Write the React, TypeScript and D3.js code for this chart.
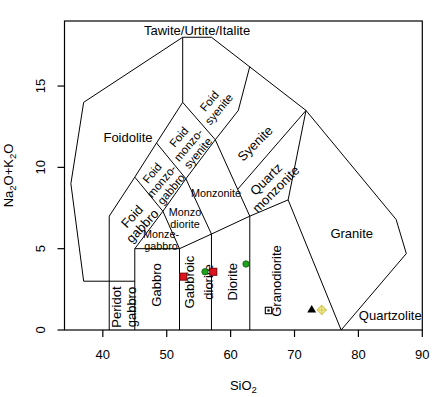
import React from "react";
import * as d3 from "d3";

const W = 443;
const H = 397;

const xTicks = [40, 50, 60, 70, 80, 90];
const yTicks = [0, 5, 10, 15];

// field boundaries (SiO2, Na2O+K2O)
const boundaries: [number, number][][] = [
  [[45, 3], [37, 3], [35, 9], [37, 14], [52.5, 18], [57, 18], [71.8, 13.5], [85.9, 6.8], [87.5, 4.7], [77.3, 0]],
  [[41, 0], [41, 7]],
  [[45, 0], [45, 5]],
  [[45, 5], [52, 5]],
  [[52, 0], [52, 5]],
  [[57, 0], [57, 5.9]],
  [[63, 0], [63, 7]],
  [[52, 5], [57, 5.9], [63, 7], [69, 8]],
  [[69, 8], [77.3, 0]],
  [[45, 5], [49.4, 7.3], [53, 9.3], [57.6, 11.7]],
  [[41, 7], [45, 9.4], [48.4, 11.5], [52.5, 14]],
  [[52.5, 14], [52.5, 18]],
  [[45, 9.4], [49.4, 7.3]],
  [[48.4, 11.5], [53, 9.3]],
  [[52.5, 14], [57.6, 11.7]],
  [[49.4, 7.3], [52, 5]],
  [[53, 9.3], [57, 5.9]],
  [[57.6, 11.7], [63, 7]],
  [[57.6, 11.7], [61.2, 13.5], [63, 16.2]],
  [[61.1, 8.65], [71.8, 13.5]],
  [[71.8, 13.5], [69, 8]],
];

type Lab = { lines: string[]; x: number; y: number; rot: number; size: number; gap: number };
const fieldLabels: Lab[] = [
  { lines: ["Tawite/Urtite/Italite"], x: 54.74, y: 18.45, rot: 0, size: 13, gap: 13 },
  { lines: ["Foidolite"], x: 43.94, y: 11.87, rot: 0, size: 13, gap: 13 },
  { lines: ["Foid", "syenite"], x: 57.4, y: 13.83, rot: -50, size: 11.5, gap: 12.5 },
  { lines: ["Foid", "monzo-", "syenite"], x: 53.38, y: 11.38, rot: -50, size: 11.5, gap: 12.5 },
  { lines: ["Foid", "monzo-", "gabbro"], x: 49.18, y: 9.16, rot: -50, size: 11.5, gap: 12.5 },
  { lines: ["Foid", "gabbro"], x: 45.35, y: 6.7, rot: -47, size: 13, gap: 14 },
  { lines: ["Monzonite"], x: 57.71, y: 8.41, rot: 0, size: 10.8, gap: 12 },
  { lines: ["Monzo", "diorite"], x: 52.86, y: 6.89, rot: 0, size: 10.8, gap: 12.3 },
  { lines: ["Monze-", "gabbro"], x: 49.1, y: 5.53, rot: 0, size: 10.8, gap: 12.3 },
  { lines: ["Gabbro"], x: 48.43, y: 2.77, rot: -90, size: 13, gap: 13 },
  { lines: ["Peridot", "gabbro"], x: 43.34, y: 1.41, rot: -90, size: 13, gap: 15 },
  { lines: ["Gabbroic", "diorite"], x: 55.0, y: 2.95, rot: -90, size: 13, gap: 19 },
  { lines: ["Diorite"], x: 60.29, y: 2.97, rot: -90, size: 13, gap: 13 },
  { lines: ["Granodiorite"], x: 67.21, y: 3.01, rot: -90, size: 13, gap: 13 },
  { lines: ["Granite"], x: 78.95, y: 5.95, rot: 0, size: 13, gap: 13 },
  { lines: ["Quartzolite"], x: 84.99, y: 0.92, rot: 0, size: 13, gap: 13 },
  { lines: ["Syenite"], x: 63.82, y: 11.48, rot: -45, size: 13, gap: 13 },
  { lines: ["Quartz", "monzonite"], x: 66.29, y: 8.97, rot: -45, size: 13, gap: 14 },
];

// samples
const redSquares: [number, number][] = [[52.59, 3.28], [57.29, 3.58]];
const greenCircles: [number, number][] = [[55.99, 3.58], [62.41, 4.06]];
const blackTriangles: [number, number][] = [[72.69, 1.23]];
const yellowDiamonds: [number, number][] = [[74.26, 1.23]];
const dotSquares: [number, number][] = [[65.93, 1.2]];

const FONT = "'Liberation Sans', Arial, Helvetica, sans-serif";

export default function App() {
  const x = d3.scaleLinear().domain([34, 90]).range([64.5, 422.3]);
  const y = d3.scaleLinear().domain([0, 19]).range([330, 21]);
  const line = d3
    .line<[number, number]>()
    .x((d) => x(d[0]))
    .y((d) => y(d[1]));
  const tri = d3.symbol(d3.symbolTriangle, 34)();

  return (
    <svg width={W} height={H} style={{ position: "absolute", left: 0, top: 0, background: "#fff" }} fontFamily={FONT}>
      <rect x={0} y={0} width={W} height={H} fill="#fff" />
      {/* frame */}
      <rect x={x(34)} y={y(19)} width={x(90) - x(34)} height={y(0) - y(19)} fill="none" stroke="#000" strokeWidth={1.2} />
      {/* field boundaries */}
      {boundaries.map((b, i) => (
        <path key={i} d={line(b) || ""} fill="none" stroke="#000" strokeWidth={1} />
      ))}
      {/* x axis */}
      {xTicks.map((t) => (
        <g key={"x" + t}>
          <line x1={x(t)} x2={x(t)} y1={y(0)} y2={y(0) + 7} stroke="#000" strokeWidth={1.2} />
          <text x={x(t)} y={359} fontSize={13} textAnchor="middle" fill="#000">
            {t}
          </text>
        </g>
      ))}
      {/* y axis */}
      {yTicks.map((t) => (
        <g key={"y" + t}>
          <line x1={x(34) - 7} x2={x(34)} y1={y(t)} y2={y(t)} stroke="#000" strokeWidth={1.2} />
          <text transform={`translate(45,${y(t)}) rotate(-90)`} fontSize={13} textAnchor="middle" fill="#000">
            {t}
          </text>
        </g>
      ))}
      {/* axis titles */}
      <text x={243.4} y={390} fontSize={13} textAnchor="middle" fill="#000">
        SiO<tspan dy={3} fontSize={9.5}>2</tspan>
      </text>
      <text transform={`translate(13,175.5) rotate(-90)`} fontSize={13} textAnchor="middle" fill="#000">
        Na<tspan dy={3} fontSize={9.5}>2</tspan>
        <tspan dy={-3}>O+K</tspan>
        <tspan dy={3} fontSize={9.5}>2</tspan>
        <tspan dy={-3}>O</tspan>
      </text>
      {/* field labels */}
      {fieldLabels.map((l, i) => {
        const n = l.lines.length;
        return (
          <g key={"l" + i} transform={`translate(${x(l.x)},${y(l.y)}) rotate(${l.rot})`}>
            {l.lines.map((s, j) => (
              <text
                key={j}
                x={0}
                y={(j - (n - 1) / 2) * l.gap}
                dy="0.36em"
                fontSize={l.size}
                textAnchor="middle"
                fill="#000"
              >
                {s}
              </text>
            ))}
          </g>
        );
      })}
      {/* samples */}
      {dotSquares.map((d, i) => (
        <g key={"q" + i}>
          <rect x={x(d[0]) - 3.2} y={y(d[1]) - 3.2} width={6.4} height={6.4} fill="#fff" stroke="#000" strokeWidth={1.1} />
          <rect x={x(d[0]) - 1.1} y={y(d[1]) - 1.1} width={2.2} height={2.2} fill="#000" />
        </g>
      ))}
      {redSquares.map((d, i) => (
        <rect key={"r" + i} x={x(d[0]) - 3.5} y={y(d[1]) - 3.5} width={7} height={7} fill="#e0141e" stroke="#7a0000" strokeWidth={1} />
      ))}
      {greenCircles.map((d, i) => (
        <circle key={"g" + i} cx={x(d[0])} cy={y(d[1])} r={3.2} fill="#1fa01f" stroke="#0b5e0b" strokeWidth={0.8} />
      ))}
      {blackTriangles.map((d, i) => (
        <path key={"t" + i} d={tri || ""} transform={`translate(${x(d[0])},${y(d[1])})`} fill="#000" />
      ))}
      {yellowDiamonds.map((d, i) => {
        const cx = x(d[0]);
        const cy = y(d[1]);
        const r = 4.6;
        return (
          <g key={"d" + i}>
            <path d={`M${cx},${cy - r}L${cx + r},${cy}L${cx},${cy + r}L${cx - r},${cy}Z`} fill="#f4ee96" stroke="#d6c95a" strokeWidth={1.1} />
            <path d={`M${cx - r},${cy}L${cx + r},${cy}M${cx},${cy - r}L${cx},${cy + r}`} stroke="#d6c95a" strokeWidth={1.1} />
          </g>
        );
      })}
    </svg>
  );
}
